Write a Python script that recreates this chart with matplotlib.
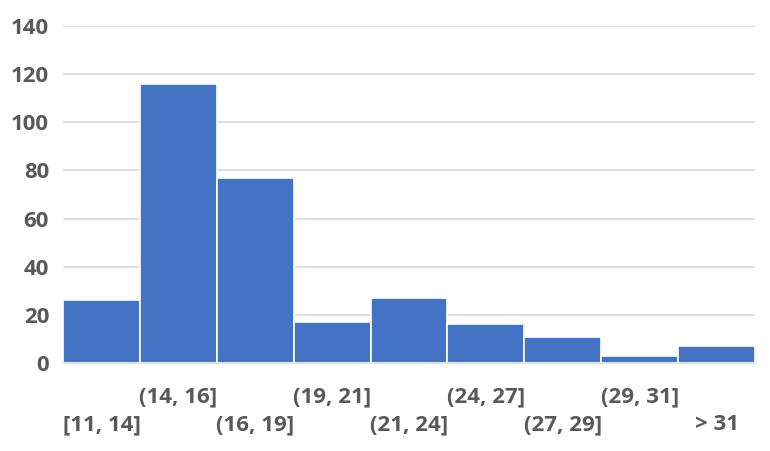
import matplotlib.pyplot as plt
import numpy as np

bins = ["[11, 14]", "(14, 16]", "(16, 19]", "(19, 21]", "(21, 24]",
        "(24, 27]", "(27, 29]", "(29, 31]", "> 31"]
counts = [26, 116, 77, 17, 27, 16, 11, 3, 7]
yticks = [0, 20, 40, 60, 80, 100, 120, 140]

plt.rcParams['font.family'] = ['Open Sans', 'DejaVu Sans']
label_color = "#595959"

fig = plt.figure(figsize=(7.7, 4.51), dpi=100)
ax = fig.add_axes([63 / 770, 1 - 363 / 451, (755 - 63) / 770, (363 - 26) / 451])

x = np.arange(len(bins))
ax.bar(x, counts, width=1.0, color="#4472C4", edgecolor="white", linewidth=1.2, zorder=3)

ax.set_xlim(-0.5, len(bins) - 0.5)
ax.set_ylim(0, 140)
ax.set_yticks(yticks)
ax.grid(axis="y", color="#d9d9d9", linewidth=1.2, zorder=0)
for s in ["left", "right", "top"]:
    ax.spines[s].set_visible(False)
ax.spines["bottom"].set_color("#d9d9d9")
ax.spines["bottom"].set_linewidth(1.2)

ax.tick_params(axis="both", length=0, labelsize=16, labelcolor=label_color)
ax.tick_params(axis="y", pad=10)
for lbl in ax.get_yticklabels():
    lbl.set_fontweight("bold")

ax.set_xticks(x)
ax.set_xticklabels(bins, fontweight="bold", va="center")
# staggered labels like Excel
for i, lbl in enumerate(ax.get_xticklabels()):
    if i % 2 == 0:
        lbl.set_y(-0.168)
    else:
        lbl.set_y(-0.085)

fig.savefig("out.png", dpi=100)
